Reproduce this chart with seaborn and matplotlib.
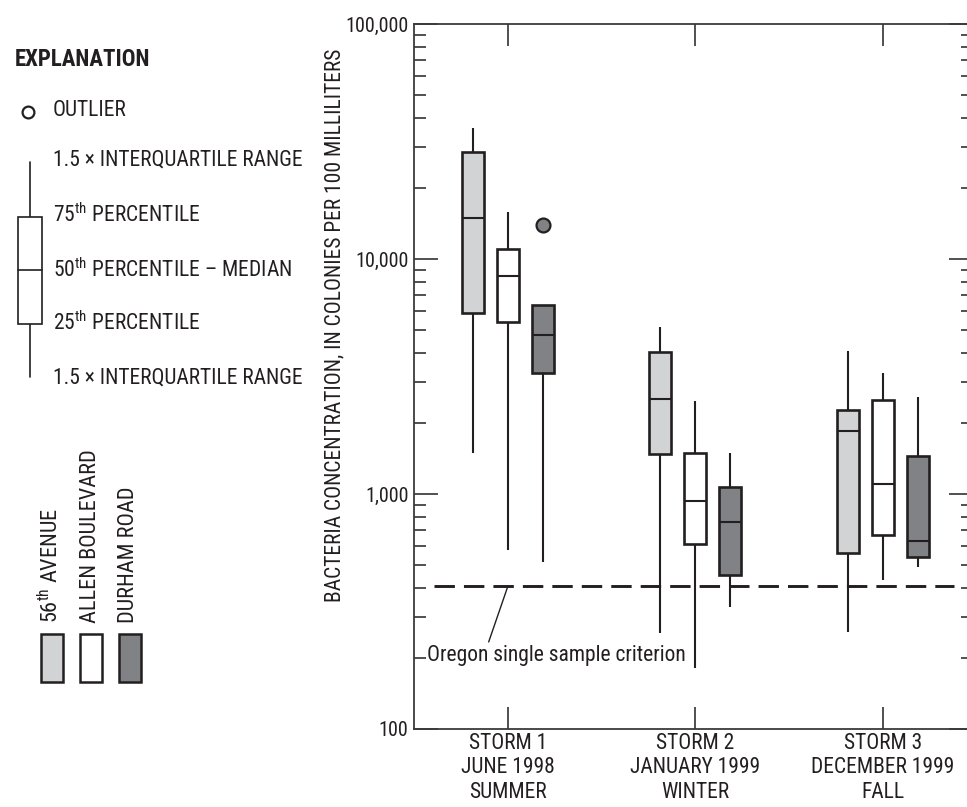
import numpy as np
import pandas as pd
import matplotlib
matplotlib.use("Agg")
import matplotlib.pyplot as plt
import matplotlib.ticker as mticker
from matplotlib.patches import Rectangle
import seaborn as sns

# ---------------------------------------------------------------- data
storms = [
    "STORM 1\nJUNE 1998\nSUMMER",
    "STORM 2\nJANUARY 1999\nWINTER",
    "STORM 3\nDECEMBER 1999\nFALL",
]
sites = ["56th AVENUE", "ALLEN BOULEVARD", "DURHAM ROAD"]
site_colors = ["#d1d3d4", "#ffffff", "#808285"]

# five-number summaries, colonies per 100 milliliters
# rows = storms, columns = sites
whisker_low = [[1500, 577, 515], [257, 181, 331], [259, 431, 490]]
quartile_25 = [[5890, 5420, 3280], [1474, 611, 452], [559, 671, 538]]
median = [[14900, 8450, 4740], [2540, 934, 762], [1850, 1100, 631]]
quartile_75 = [[28600, 10990, 6350], [4016, 1495, 1071], [2278, 2504, 1451]]
whisker_high = [[36250, 15860, 6350], [5150, 2487, 1490], [4072, 3282, 2579]]
outlier_values = [14020]
outlier_cells = [(0, 2)]          # (storm index, site index)

criterion = 406                   # Oregon single sample criterion

# ---------------------------------------------------------------- long table
rows = []
for i, storm in enumerate(storms):
    for j, site in enumerate(sites):
        vals = [whisker_low[i][j], quartile_25[i][j], median[i][j], quartile_75[i][j]]
        if whisker_high[i][j] > quartile_75[i][j]:
            vals.append(whisker_high[i][j])
        for (si, sj), v in zip(outlier_cells, outlier_values):
            if (si, sj) == (i, j):
                vals.append(v)
        rows += [(storm, site, v) for v in vals]
df = pd.DataFrame(rows, columns=["storm", "site", "value"])

# ---------------------------------------------------------------- style
sns.set_style("ticks")
FONT = ["Roboto Condensed", "DejaVu Sans"]
plt.rcParams["font.family"] = FONT
plt.rcParams["mathtext.fontset"] = "custom"
plt.rcParams["mathtext.rm"] = FONT[0]
plt.rcParams["mathtext.it"] = FONT[0]
plt.rcParams["mathtext.bf"] = FONT[0] + ":bold"
INK = "#231f20"
FS = 15.5

W, H = 967, 807
fig = plt.figure(figsize=(W / 100, H / 100), dpi=100)
ax_left, ax_right, ax_top, ax_bottom = 414, 973, 24, 729
ax = fig.add_axes([ax_left / W, 1 - ax_bottom / H,
                   (ax_right - ax_left) / W, (ax_bottom - ax_top) / H])

sns.boxplot(
    data=df, x="storm", y="value", hue="site",
    order=storms, hue_order=sites, palette=site_colors, saturation=1,
    width=0.56, gap=0.37, showcaps=False, linecolor=INK, linewidth=1.9,
    whiskerprops={"linewidth": 1.5},
    medianprops={"linewidth": 1.5},
    flierprops={"marker": "o", "markersize": 10, "markerfacecolor": "#808285",
                "markeredgecolor": INK, "markeredgewidth": 1.6},
    legend=False, ax=ax,
)

ax.set_yscale("log")
ax.set_ylim(100, 100000)
ax.set_xlim(-0.501, 2.48)

ax.yaxis.set_major_locator(mticker.LogLocator(base=10))
ax.yaxis.set_minor_locator(mticker.LogLocator(base=10, subs=np.arange(2, 10)))
ax.yaxis.set_major_formatter(mticker.FuncFormatter(lambda v, _: f"{v:,.0f}"))
ax.yaxis.set_minor_formatter(mticker.NullFormatter())

ax.tick_params(axis="y", which="major", direction="in", length=17, width=1.1,
               left=True, right=True, color=INK, labelsize=14.5, labelcolor=INK, pad=4)
ax.tick_params(axis="y", which="minor", direction="in", length=8.5, width=1.1,
               left=True, right=True, color=INK)
ax.tick_params(axis="x", which="major", direction="in", length=16, width=1.1,
               bottom=True, top=True, color=INK, labelsize=FS, labelcolor=INK, pad=3)
ax.set_xlabel("")
ax.set_ylabel("BACTERIA CONCENTRATION, IN COLONIES PER 100 MILLILITERS",
              fontsize=FS, color=INK)
ax.yaxis.set_label_coords(-0.123, 0.573)
for side in ["left", "bottom", "top", "right"]:
    ax.spines[side].set_visible(True)
    ax.spines[side].set_color("#3a3a3a")
    ax.spines[side].set_linewidth(1.3)
ax.grid(False)

# criterion line with its leader
ax.axhline(criterion, xmin=0.036, xmax=0.966, color=INK, lw=2.1,
           ls=(0, (7.0, 3.1)), zorder=1)
ax.annotate("Oregon single sample criterion", xy=(0.0, criterion),
            xytext=(-0.432, 205), fontsize=15.5, color=INK, ha="left", va="center",
            arrowprops=dict(arrowstyle="-", color=INK, lw=1.0, shrinkA=0, shrinkB=0,
                            relpos=(0.23, 0.85)))

# ---------------------------------------------------------------- explanation
ov = fig.add_axes([0, 0, 1, 1], zorder=-1)
ov.set_xlim(0, W)
ov.set_ylim(H, 0)
ov.axis("off")
txt = dict(fontsize=FS, color=INK, va="center", ha="left")

ov.text(15, 60, "EXPLANATION", fontsize=16.5, fontweight="bold", color=INK,
        va="center", ha="left")
ov.plot([28], [112], "o", ms=8.5, mfc="white", mec=INK, mew=1.6)
ov.text(53, 111, "OUTLIER", **txt)

ov.plot([30, 30], [162, 377], color=INK, lw=1.2)
ov.add_patch(Rectangle((18, 217), 24, 107, fc="white", ec=INK, lw=1.2, zorder=3))
ov.plot([18, 42], [270, 270], color=INK, lw=1.2, zorder=4)
ov.text(53, 160, "1.5 \u00d7 INTERQUARTILE RANGE", **txt)
ov.text(53, 215, r"75$^{\rm th}$ PERCENTILE", **txt)
ov.text(53, 270, "50$^{\\rm th}$ PERCENTILE \u2013 MEDIAN", **txt)
ov.text(53, 323, r"25$^{\rm th}$ PERCENTILE", **txt)
ov.text(53, 378, "1.5 \u00d7 INTERQUARTILE RANGE", **txt)

site_labels = [r"56$^{\rm th}$ AVENUE", "ALLEN BOULEVARD", "DURHAM ROAD"]
for k, (lab, col) in enumerate(zip(site_labels, site_colors)):
    x0 = 41 + 39 * k
    ov.add_patch(Rectangle((x0, 634), 22, 48, fc=col, ec=INK, lw=1.8))
    ov.text(x0 + 10, 623, lab, rotation=90, ha="center", va="bottom",
            fontsize=16, color=INK)

fig.savefig("out.png", dpi=100)
